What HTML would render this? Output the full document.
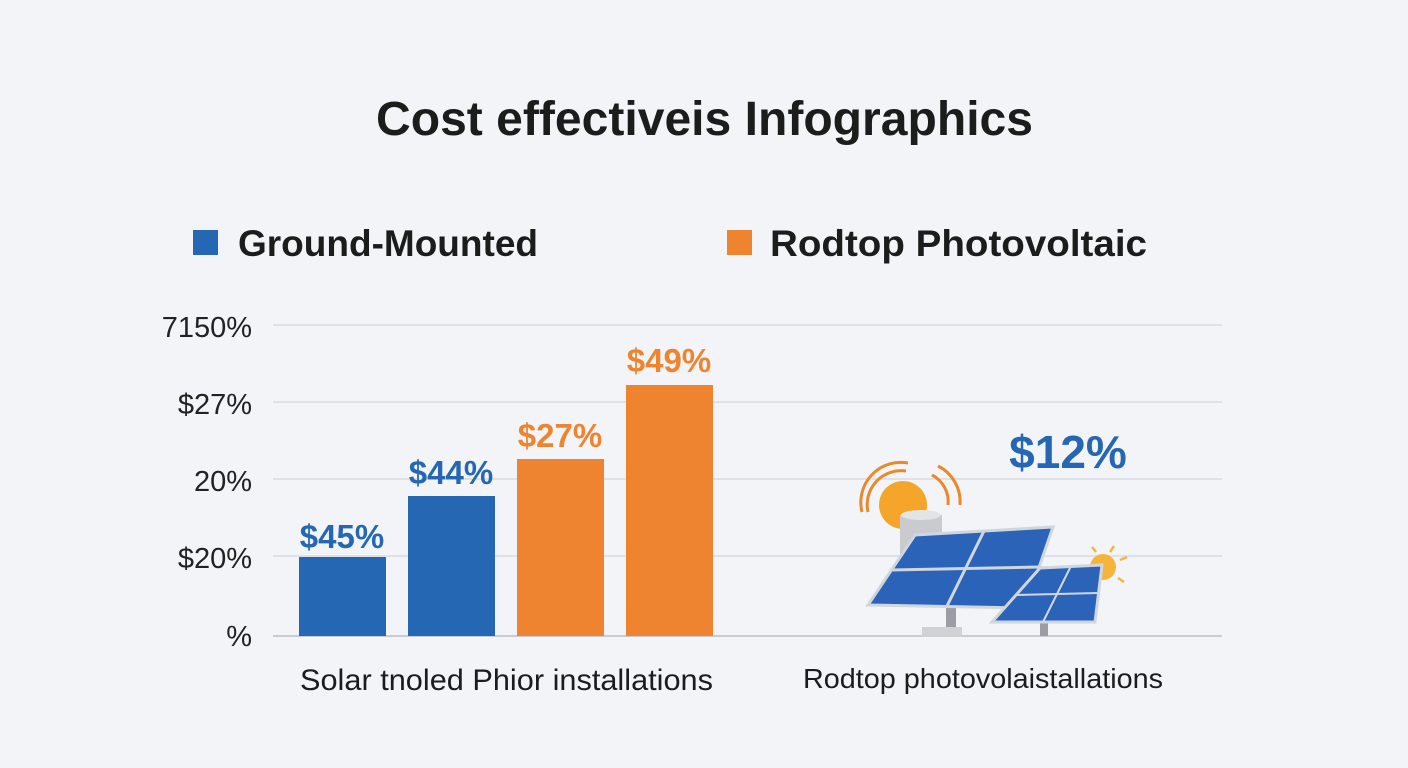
<!DOCTYPE html>
<html><head><meta charset="utf-8"><style>
body{margin:0;width:1408px;height:768px;background:#f2f4f7;font-family:"Liberation Sans",sans-serif;overflow:hidden;position:relative}
</style></head><body>
<svg width="1408" height="768" style="position:absolute;left:0;top:0" font-family="Liberation Sans, sans-serif">
<text x="376" y="135" textLength="657" lengthAdjust="spacingAndGlyphs" font-size="48" font-weight="bold" fill="#1c1c1c">Cost effectiveis Infographics</text>
<rect x="193" y="230" width="25" height="25" fill="#2567b3"/>
<text x="238" y="256" textLength="300" lengthAdjust="spacingAndGlyphs" font-size="37" font-weight="bold" fill="#1c1c1c">Ground-Mounted</text>
<rect x="727" y="230" width="25" height="25" fill="#ef8430"/>
<text x="770" y="256" textLength="377" lengthAdjust="spacingAndGlyphs" font-size="37" font-weight="bold" fill="#1c1c1c">Rodtop Photovoltaic</text>
<g stroke="#d8dbe0" stroke-width="1.5">
<line x1="273" y1="325" x2="1222" y2="325"/><line x1="273" y1="402" x2="1222" y2="402"/>
<line x1="273" y1="479" x2="1222" y2="479"/><line x1="273" y1="556" x2="1222" y2="556"/>
</g>
<line x1="273" y1="636" x2="1222" y2="636" stroke="#c8ccd2" stroke-width="2"/>
<g font-size="29" fill="#222" text-anchor="end">
<text x="252" y="337">7150%</text><text x="252" y="414">$27%</text><text x="252" y="491">20%</text><text x="252" y="568">$20%</text><text x="252" y="646">%</text>
</g>
<rect x="299" y="557" width="87" height="79" fill="#2567b3"/>
<rect x="408" y="496" width="87" height="140" fill="#2567b3"/>
<rect x="517" y="459" width="87" height="177" fill="#ef8430"/>
<rect x="626" y="385" width="87" height="251" fill="#ef8430"/>
<g font-size="33" font-weight="bold" text-anchor="middle">
<text x="342" y="548" fill="#2567b3">$45%</text><text x="451" y="484" fill="#2567b3">$44%</text>
<text x="560" y="447" fill="#ef8430">$27%</text><text x="669" y="372" fill="#ef8430">$49%</text>
</g>
<text x="1068" y="468" text-anchor="middle" font-size="46" font-weight="bold" fill="#2567b3">$12%</text>
<text x="300" y="690" textLength="413" lengthAdjust="spacingAndGlyphs" font-size="30" fill="#1c1c1c">Solar tnoled Phior installations</text>
<text x="803" y="688" textLength="360" lengthAdjust="spacingAndGlyphs" font-size="28" fill="#1c1c1c">Rodtop photovolaistallations</text>
<g fill="none" stroke="#e8892e" stroke-width="3">
<path d="M862 512 A40 40 0 0 1 908 463"/><path d="M868 512 A34 34 0 0 1 906 471"/>
<path d="M938 466 A40 40 0 0 1 960 505"/><path d="M932 475 A30 30 0 0 1 948 505"/>
</g>
<circle cx="903" cy="505" r="24" fill="#f4a52a"/>
<rect x="900" y="515" width="42" height="50" fill="#c9cbce"/>
<ellipse cx="921" cy="515" rx="20" ry="5" fill="#e3e4e6"/>
<circle cx="1103" cy="567" r="13" fill="#f4b53a"/>
<g stroke="#f4b53a" stroke-width="2.5"><line x1="1092" y1="547" x2="1096" y2="552"/><line x1="1114" y1="546" x2="1110" y2="552"/><line x1="1120" y1="560" x2="1127" y2="557"/><line x1="1118" y1="578" x2="1124" y2="582"/></g>
<rect x="946" y="605" width="10" height="24" fill="#9a9ea4"/>
<rect x="922" y="627" width="40" height="10" fill="#cfd1d4"/>
<rect x="1040" y="618" width="8" height="18" fill="#9a9ea4"/>
<polygon points="915,535 1053,527 1025,608 868,605" fill="#2a63b8" stroke="#d0d6de" stroke-width="3"/>
<line x1="984" y1="531" x2="947" y2="606" stroke="#d0d6de" stroke-width="3"/>
<line x1="891" y1="570" x2="1039" y2="567" stroke="#d0d6de" stroke-width="3"/>
<polygon points="1040,568 1102,565 1095,622 992,622" fill="#2a63b8" stroke="#d0d6de" stroke-width="3"/>
<line x1="1071" y1="566" x2="1043" y2="622" stroke="#d0d6de" stroke-width="2"/>
<line x1="1016" y1="595" x2="1098" y2="593" stroke="#d0d6de" stroke-width="2"/>
</svg>
</body></html>
